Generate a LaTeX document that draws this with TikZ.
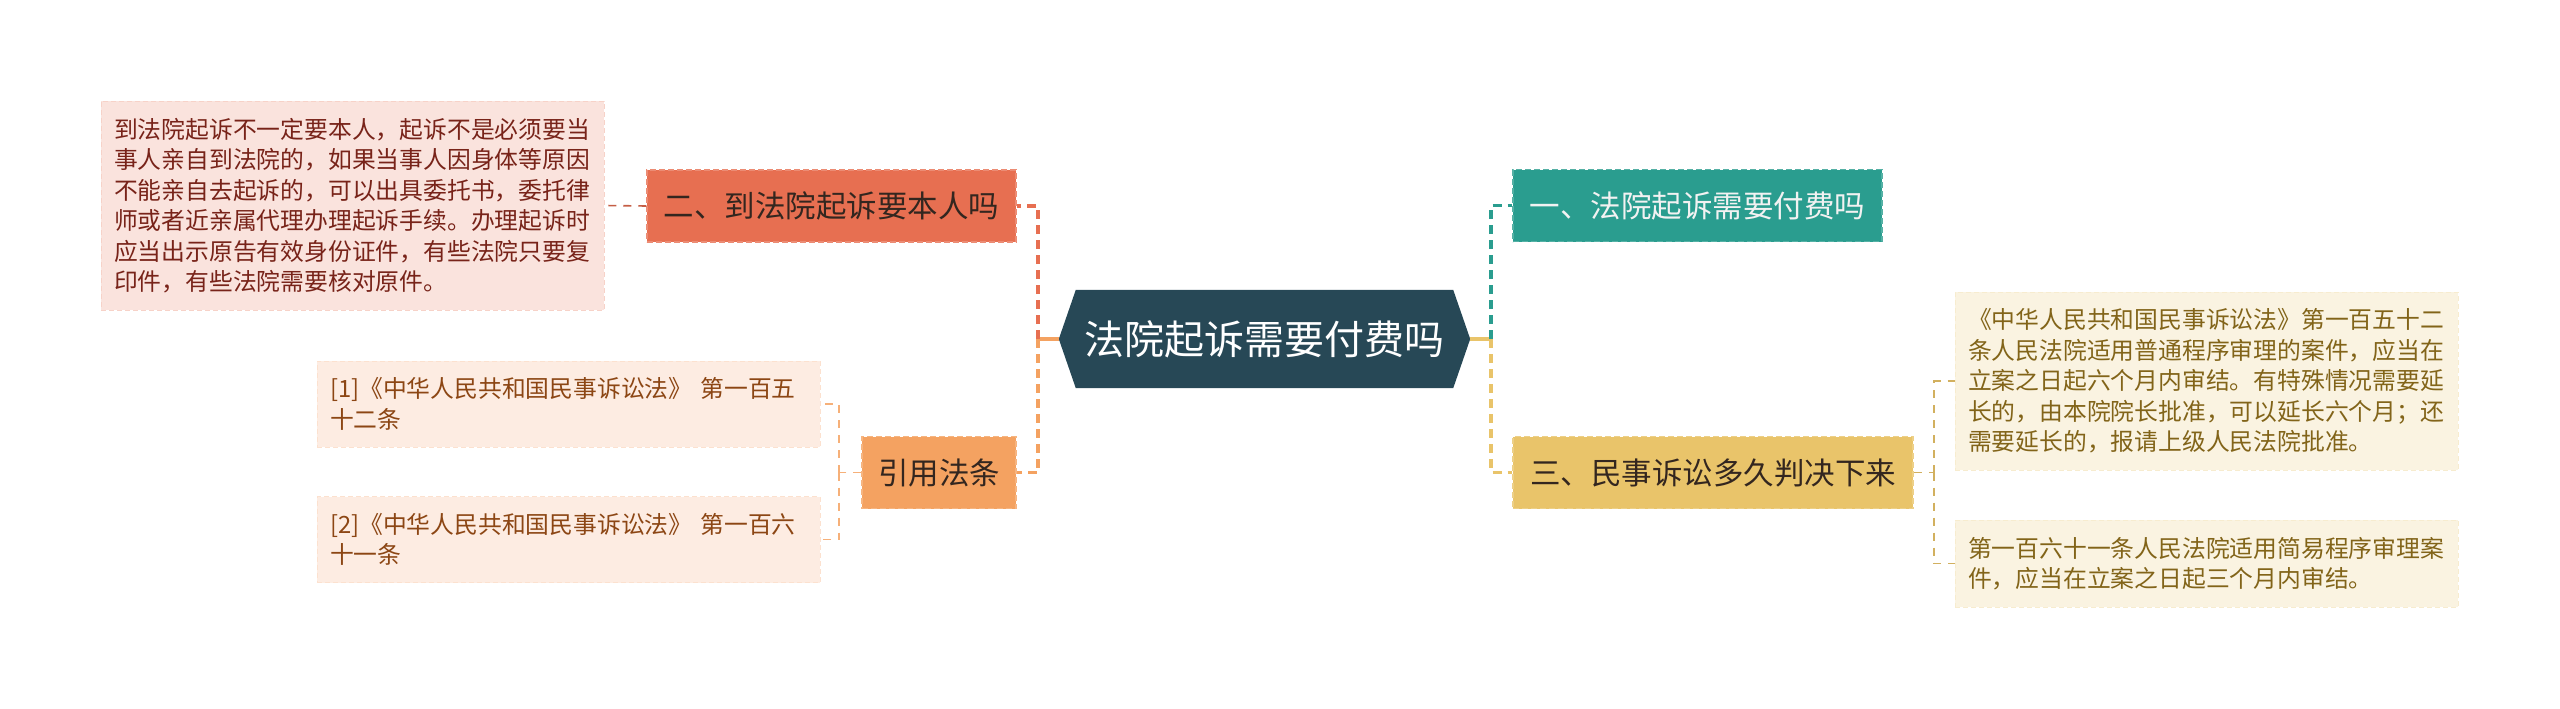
\documentclass[tikz,border=0pt]{standalone}
\usepackage{fontspec}
\setmainfont{Noto Sans CJK SC}
\usetikzlibrary{backgrounds}
\definecolor{cdark}{HTML}{274856}
\definecolor{cteal}{HTML}{2A9D8F}
\definecolor{cyel}{HTML}{E9C46A}
\definecolor{cred}{HTML}{E76F51}
\definecolor{corg}{HTML}{F4A261}
\definecolor{fpink}{HTML}{FAE3DD}
\definecolor{tpink}{HTML}{782319}
\definecolor{fpeach}{HTML}{FDECE2}
\definecolor{tpeach}{HTML}{8C4614}
\definecolor{fcream}{HTML}{FAF3E1}
\definecolor{tcream}{HTML}{826419}
\definecolor{tdark}{HTML}{33261F}
\tikzset{
  mainbox/.style={rectangle, inner sep=0pt, minimum height=72pt,
    font=\fontsize{30.5pt}{36pt}\selectfont, dash pattern=on 6pt off 3pt, line width=1.5pt},
  leafbox/.style={rectangle, inner xsep=13pt, inner ysep=0pt, text width=477pt, align=left,
    font=\fontsize{23.8pt}{30.5pt}\selectfont, dash pattern=on 5pt off 3pt, line width=1pt},
  busline/.style={line width=3.2pt, dash pattern=on 9pt off 6pt},
  solidline/.style={line width=3.2pt},
  leafline/.style={line width=1.6pt, dash pattern=on 8pt off 7pt},
}
\begin{document}
\begin{tikzpicture}[x=1pt,y=-1pt]
\useasboundingbox (0,0) rectangle (2560,709);
% central node
\node[rectangle, inner sep=0pt, minimum width=411pt, minimum height=98pt, text=white,
  font=\fontsize{40pt}{48pt}\selectfont] (c) at (1264.5,339) {法院起诉需要付费吗};
\begin{scope}[on background layer]
\fill[cdark] (c.west) -- ([xshift=17pt]c.north west) -- ([xshift=-17pt]c.north east)
  -- (c.east) -- ([xshift=-17pt]c.south east) -- ([xshift=17pt]c.south west) -- cycle;
\end{scope}
% branch nodes
\node[mainbox, fill=cteal, draw=cteal!80!white, text=white!95!black, minimum width=369pt] (b1) at (1697.5,205.5) {一、法院起诉需要付费吗};
\node[mainbox, fill=cyel, draw=cyel!80!white, text=tdark, minimum width=400pt] (b3) at (1713,472.5) {三、民事诉讼多久判决下来};
\node[mainbox, fill=cred, draw=cred!80!white, text=tdark, minimum width=369pt] (b2) at (831.5,206) {二、到法院起诉要本人吗};
\node[mainbox, fill=corg, draw=corg!80!white, text=tdark, minimum width=154pt] (b4) at (939,472.5) {引用法条};
% leaves
\node[leafbox, fill=fpink, draw=fpink!85!cred, text=tpink, minimum height=209pt] (l1) at (352.5,205.5) {到法院起诉不一定要本人，起诉不是必须要当\\事人亲自到法院的，如果当事人因身体等原因\\不能亲自去起诉的，可以出具委托书，委托律\\师或者近亲属代理办理起诉手续。办理起诉时\\应当出示原告有效身份证件，有些法院只要复\\印件，有些法院需要核对原件。};
\node[leafbox, fill=fpeach, draw=fpeach!85!corg, text=tpeach, minimum height=86pt] (l2) at (568.5,404) {[1]《中华人民共和国民事诉讼法》 第一百五\\十二条};
\node[leafbox, fill=fpeach, draw=fpeach!85!corg, text=tpeach, minimum height=86pt] (l3) at (568.5,539.5) {[2]《中华人民共和国民事诉讼法》 第一百六\\十一条};
\node[leafbox, fill=fcream, draw=fcream!85!cyel, text=tcream, minimum height=178pt] (r1) at (2206.5,381) {《中华人民共和国民事诉讼法》第一百五十二\\条人民法院适用普通程序审理的案件，应当在\\立案之日起六个月内审结。有特殊情况需要延\\长的，由本院院长批准，可以延长六个月；还\\需要延长的，报请上级人民法院批准。};
\node[leafbox, fill=fcream, draw=fcream!85!cyel, text=tcream, minimum height=87pt] (r2) at (2206.5,563.5) {第一百六十一条人民法院适用简易程序审理案\\件，应当在立案之日起三个月内审结。};
% bus coordinates
\coordinate (lbus) at (1038,339);
\coordinate (rbus) at (1491,339);
\coordinate (qbus) at (839,472.5);
\coordinate (tbus) at (1934,472.5);
% main connectors
\draw[solidline, corg] (c.west) -- (lbus);
\draw[busline, cred] (lbus) |- (b2.east);
\draw[busline, corg] (lbus) |- (b4.east);
\draw[solidline, cyel] (c.east) -- (rbus);
\draw[busline, cteal] (rbus) |- (b1.west);
\draw[busline, cyel] (rbus) |- (b3.west);
% leaf connectors
\draw[leafline, cred!85!black] (b2.west) -- (l1.east);
\draw[leafline, corg!85!white] (b4.west) -- (qbus);
\draw[leafline, corg!85!white] (qbus) |- (l2.east);
\draw[leafline, corg!85!white] (qbus) |- (l3.east);
\draw[leafline, cyel!90!black] (b3.east) -- (tbus);
\draw[leafline, cyel!90!black] (tbus) |- (r1.west);
\draw[leafline, cyel!90!black] (tbus) |- (r2.west);
\end{tikzpicture}
\end{document}
